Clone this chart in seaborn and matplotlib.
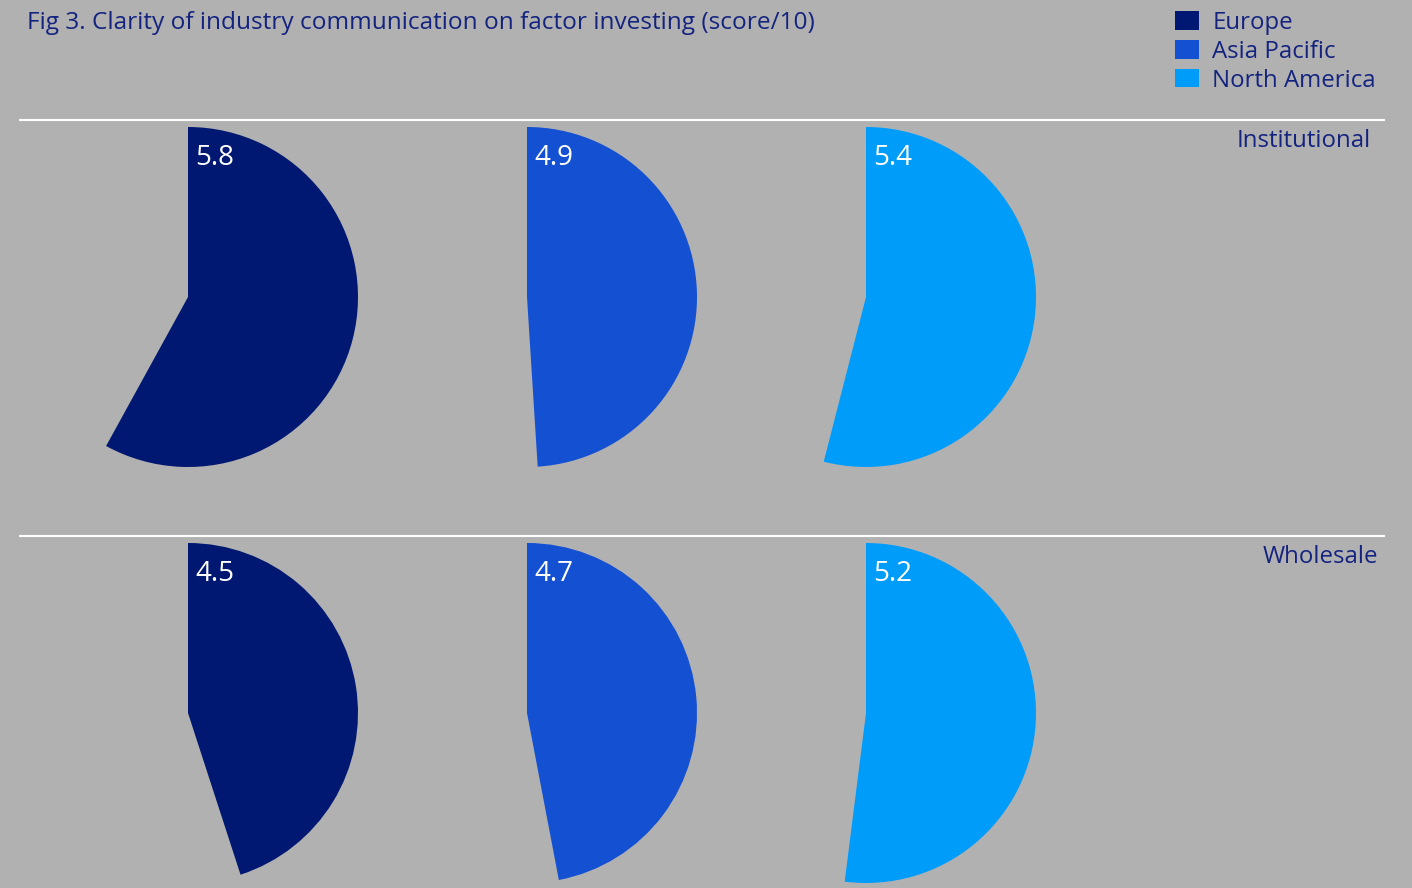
import matplotlib
matplotlib.use("Agg")
import matplotlib.pyplot as plt
from matplotlib.patches import Patch
import seaborn as sns

regions = ["Europe", "Asia Pacific", "North America"]
segments = ["Institutional", "Wholesale"]
institutional = [5.8, 4.9, 5.4]
wholesale = [4.5, 4.7, 5.2]
max_score = 10
title = "Fig 3. Clarity of industry communication on factor investing (score/10)"

colors = sns.color_palette(["#001871", "#1450D2", "#009CFA"])
bg = "#B1B1B1"
txt = "#14237F"

sns.set_theme(style="white")
plt.rcParams["font.family"] = ["Open Sans", "DejaVu Sans"]

W, H = 1412, 888
fig = plt.figure(figsize=(W / 100, H / 100), dpi=100, facecolor=bg)
ax = fig.add_axes([0, 0, 1, 1])
ax.set_facecolor(bg)

def Y(y):
    return H - y

col_x = [188, 527, 866]
row_y = [297, 713]
radius = 170
line_y = [120, 536]
seg_label_x = [1371, 1378]
seg_label_y = [141, 557]

for r, (seg, vals) in enumerate(zip(segments, [institutional, wholesale])):
    ax.plot([19, 1385], [Y(line_y[r]), Y(line_y[r])], color="white", lw=1.5,
            solid_capstyle="butt")
    ax.text(seg_label_x[r], Y(seg_label_y[r]), seg, ha="right", va="center",
            color=txt, fontsize=17.3)
    for c, v in enumerate(vals):
        cx, cy = col_x[c], Y(row_y[r])
        ax.pie([v / max_score], colors=[colors[c]], normalize=False,
               startangle=90, counterclock=False, center=(cx, cy),
               radius=radius, wedgeprops=dict(linewidth=0), frame=True)
        ax.text(cx + 7, cy + radius - 31, f"{v:.1f}", ha="left", va="center",
                color="white", fontsize=20)

ax.set_xlim(0, W)
ax.set_ylim(0, H)
ax.set_aspect("equal")
ax.axis("off")

ax.text(27, Y(23), title, ha="left", va="center", color=txt, fontsize=17.6)

handles = [Patch(facecolor=colors[i], edgecolor="none", label=regions[i])
           for i in range(3)]
leg = ax.legend(handles=handles, loc="upper left",
                bbox_to_anchor=(1175 / W, 1 - 11 / H), frameon=False,
                fontsize=17.3, handlelength=1.0, handleheight=0.8,
                handletextpad=0.55, labelspacing=0.2, borderaxespad=0,
                borderpad=0)
for t in leg.get_texts():
    t.set_color(txt)

fig.savefig("out.png", dpi=100, facecolor=bg)
